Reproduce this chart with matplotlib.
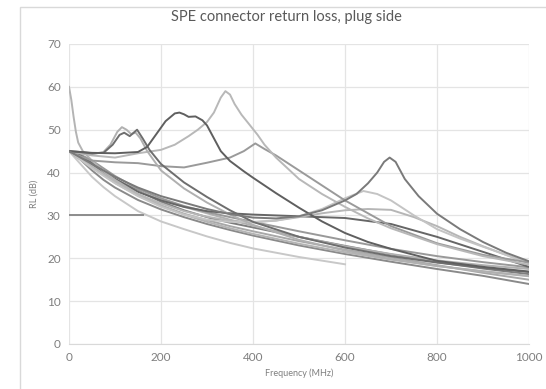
import matplotlib
matplotlib.use("Agg")
import matplotlib.pyplot as plt
from matplotlib.patches import Rectangle

plt.rcParams['font.family'] = ['Lato', 'DejaVu Sans']

# common frequency grid (MHz) for the smooth decaying traces
freq = [0, 25, 50, 75, 100, 150, 200, 250, 300, 350, 400, 500, 600, 700, 800, 900, 1000]

rl_m1 = [45, 42, 39, 36.6, 34.5, 31.0, 28.6, 26.8, 25.1, 23.6, 22.3, 20.3, 18.6]
rl_m2 = [45, 43, 40.5, 38.3, 36.5, 33.6, 31.4, 29.6, 28.0, 26.6, 25.3, 23.0, 21.0, 19.2, 17.5, 15.9, 14.0]
rl_m3 = [45, 43.5, 41.5, 39.5, 37.6, 34.6, 32.3, 30.4, 28.9, 27.5, 26.3, 24.0, 22.0, 20.2, 18.4, 16.6, 15.0]
rl_m4 = [45, 44, 42.3, 40.3, 38.5, 35.8, 33.2, 31.2, 29.6, 28.3, 27.2, 25.0, 22.9, 20.9, 19.1, 17.6, 16.3]
rl_m5 = [45, 43.8, 41.8, 39.8, 38.0, 35.6, 33.6, 32.0, 30.5, 29.0, 27.6, 25.0, 22.8, 21.0, 19.5, 18.4, 17.5]
rl_m6 = [45, 44.2, 42.8, 41.0, 39.2, 36.2, 34.0, 32.2, 30.8, 29.6, 28.5, 26.3, 24.2, 22.2, 20.5, 19.1, 17.9]
rl_k = [45, 44, 42, 40, 38.5, 35.5, 33.5, 32.0, 31.0, 30.5, 30.2, 29.8, 29.4, 28.0, 25.0, 21.5, 18.0]

# flat 30 dB segment
f_flat = [0, 160]
rl_flat = [30, 30]

# trace starting high at DC
f_a = [0, 5, 10, 15, 20, 30, 50, 75, 100, 150, 200, 250, 300, 350, 400, 500, 600, 700, 800, 900, 1000]
rl_a = [60, 57, 53, 49.5, 47, 45, 42.8, 40.3, 38.3, 35.0, 32.3, 30.2, 28.5, 27.0, 25.7, 23.4, 21.4, 19.7, 18.2, 16.9, 15.8]

# double hump around 120-150 MHz (light and dark)
f_d = [0, 25, 50, 75, 90, 105, 115, 125, 135, 145, 155, 170, 200, 250, 300, 350, 400, 500, 600, 700, 800, 900, 1000]
rl_d = [45, 44.5, 44.3, 44.8, 46.5, 49.5, 50.6, 50.0, 49.0, 49.3, 48.0, 45.0, 40.5, 36.3, 33.0, 30.2, 27.8, 24.3, 21.8, 19.8, 18.2, 17.0, 15.9]
f_e = [0, 25, 50, 75, 95, 110, 120, 132, 148, 160, 175, 200, 250, 300, 350, 400, 500, 600, 700, 800, 900, 1000]
rl_e = [45, 44.8, 44.5, 44.6, 46.5, 48.8, 49.3, 48.5, 50.0, 48.0, 45.3, 42.0, 37.7, 34.3, 31.2, 28.5, 25.0, 22.5, 20.5, 19.0, 17.8, 16.8]

# dark peak near 240 MHz
f_f = [0, 50, 100, 150, 170, 190, 210, 230, 240, 250, 260, 275, 290, 300, 315, 330, 350, 380, 400, 450, 500, 550, 600, 650, 700, 800, 900, 1000]
rl_f = [45, 44.6, 44.5, 44.8, 46.0, 49.0, 52.0, 53.8, 54.0, 53.6, 53.0, 53.1, 52.2, 51.0, 48.0, 45.0, 42.7, 40.3, 38.8, 35.2, 31.8, 28.6, 25.9, 23.8, 22.2, 19.4, 18.0, 16.9]

# light peak near 340 MHz
f_g = [0, 50, 100, 150, 200, 230, 260, 280, 300, 315, 330, 340, 350, 360, 375, 390, 410, 425, 450, 500, 550, 600, 650, 700, 800, 900, 1000]
rl_g = [45, 44, 43.5, 44.5, 45.3, 46.5, 48.5, 50.0, 51.8, 54.0, 57.5, 59.0, 58.2, 56.0, 53.5, 51.5, 48.8, 46.5, 43.5, 38.5, 35.0, 32.0, 29.3, 27.0, 23.3, 20.5, 18.5]

# mid grey trace with dip at 200 and peak near 405 MHz
f_c = [0, 25, 50, 100, 150, 200, 250, 300, 350, 380, 405, 425, 450, 500, 550, 600, 700, 800, 900, 1000]
rl_c = [45, 43.8, 42.8, 42.4, 42.2, 41.5, 41.2, 42.3, 43.5, 45.0, 46.8, 45.5, 44.0, 40.5, 37.0, 33.5, 27.5, 23.5, 20.8, 19.0]

# dark peak near 700 MHz
f_h = [0, 25, 50, 100, 150, 200, 250, 300, 350, 400, 450, 500, 550, 600, 625, 650, 670, 685, 697, 710, 730, 760, 800, 850, 900, 950, 1000]
rl_h = [45, 43.5, 42, 39, 36.5, 34.5, 33.0, 31.5, 30.3, 29.5, 29.3, 29.8, 31.2, 33.5, 35.0, 37.5, 40.0, 42.5, 43.5, 42.5, 38.5, 34.5, 30.4, 26.8, 23.8, 21.3, 19.3]

# light peak near 640 MHz
f_i = [0, 50, 100, 150, 200, 250, 300, 350, 400, 450, 500, 550, 600, 640, 670, 700, 750, 800, 850, 900, 950, 1000]
rl_i = [45, 41, 37.5, 34.5, 32.0, 30.2, 29.0, 28.5, 28.5, 28.8, 29.8, 31.5, 34.0, 35.7, 35.0, 33.5, 30.0, 26.8, 24.6, 22.7, 20.8, 18.8]

# light plateau around 650-700 MHz
f_j = [0, 50, 100, 150, 200, 250, 300, 350, 400, 450, 500, 550, 600, 650, 700, 750, 800, 850, 900, 950, 1000]
rl_j = [45, 41.5, 38, 35, 32.8, 31.0, 29.7, 28.8, 28.4, 28.8, 29.6, 30.5, 31.2, 31.5, 31.3, 29.6, 27.5, 25.0, 22.8, 20.8, 19.0]

fig = plt.figure(figsize=(5.46, 3.89), dpi=100)
ax = fig.add_axes([69 / 546, 45 / 389, 460 / 546, 300 / 389])

# chart frame
fig.patches.append(Rectangle((20 / 546, -0.05), 1.2, 1 - 7 / 389 + 0.05,
                             transform=fig.transFigure, fill=False,
                             edgecolor='#d9d9d9', linewidth=1.0))

lw = 1.4
ax.plot(freq[:len(rl_m1)], rl_m1, color='#c8c8c8', lw=lw)
ax.plot(freq, rl_m2, color='#8a8a8a', lw=lw)
ax.plot(freq, rl_m3, color='#a8a8a8', lw=lw)
ax.plot(freq, rl_m4, color='#7d7d7d', lw=lw)
ax.plot(freq, rl_m5, color='#b0b0b0', lw=lw)
ax.plot(freq, rl_m6, color='#999999', lw=lw)
ax.plot(freq, rl_k, color='#666666', lw=lw)
ax.plot(f_flat, rl_flat, color='#8c8c8c', lw=lw)
ax.plot(f_a, rl_a, color='#b4b4b4', lw=lw)
ax.plot(f_j, rl_j, color='#b6b6b6', lw=lw)
ax.plot(f_i, rl_i, color='#c4c4c4', lw=lw)
ax.plot(f_c, rl_c, color='#9a9a9a', lw=lw)
ax.plot(f_g, rl_g, color='#b8b8b8', lw=lw)
ax.plot(f_d, rl_d, color='#b0b0b0', lw=lw)
ax.plot(f_e, rl_e, color='#6e6e6e', lw=lw)
ax.plot(f_f, rl_f, color='#5f5f5f', lw=lw)
ax.plot(f_h, rl_h, color='#7a7a7a', lw=lw)

ax.set_xlim(0, 1000)
ax.set_ylim(0, 70)
ax.set_xticks(range(0, 1001, 200))
ax.set_yticks(range(0, 71, 10))
ax.grid(True, color='#e4e4e4', linewidth=0.9)
ax.set_axisbelow(True)
for side in ['top', 'right', 'left']:
    ax.spines[side].set_visible(False)
ax.spines['bottom'].set_color('#d9d9d9')
ax.tick_params(length=0, labelsize=8.5, labelcolor='#7f7f7f', pad=6)

ax.set_xlabel('Frequency (MHz)', fontsize=6.5, color='#7f7f7f', labelpad=4)
ax.set_ylabel('RL (dB)', fontsize=6.5, color='#7f7f7f', labelpad=6)
fig.text(286 / 546, 1 - 17 / 389, 'SPE connector return loss, plug side',
         ha='center', va='center', fontsize=10.5, color='#595959')

fig.savefig('out.png', dpi=100)
